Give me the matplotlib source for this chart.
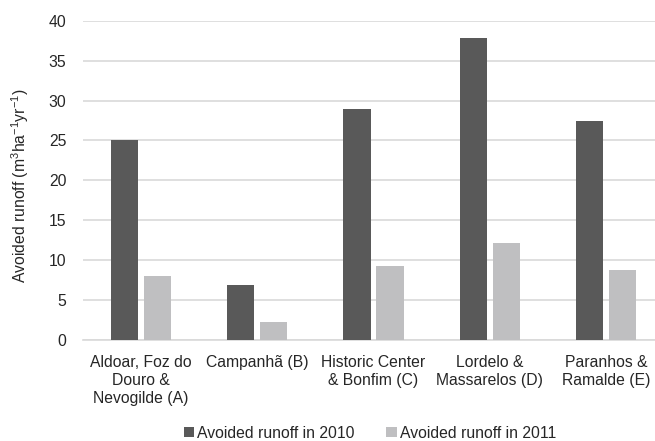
import matplotlib
matplotlib.use("Agg")
import matplotlib.pyplot as plt
from matplotlib.patches import Patch
import numpy as np

plt.rcParams["font.family"] = ["Liberation Sans", "DejaVu Sans"]
plt.rcParams["mathtext.fontset"] = "custom"
plt.rcParams["mathtext.rm"] = "Liberation Sans"
plt.rcParams["mathtext.it"] = "Liberation Sans"

categories = [
    "Aldoar, Foz do\nDouro &\nNevogilde (A)",
    "Campanhã (B)",
    "Historic Center\n& Bonfim (C)",
    "Lordelo &\nMassarelos (D)",
    "Paranhos &\nRamalde (E)",
]
runoff_2010 = [25.1, 6.9, 29.0, 37.8, 27.4]
runoff_2011 = [8.0, 2.2, 9.3, 12.1, 8.8]
series_names = ["Avoided runoff in 2010", "Avoided runoff in 2011"]
yticks = [0, 5, 10, 15, 20, 25, 30, 35, 40]

dark = "#595959"
light = "#bfbfc1"
text_color = "#262626"
grid_color = "#d9d9d9"
fs = 11.3

W, H = 655, 441
fig = plt.figure(figsize=(W / 100, H / 100), dpi=100)
left, right, bottom, top = 83, 664, 340, 20.7
ax = fig.add_axes([left / W, (H - bottom) / H, (right - left) / W, (bottom - top) / H])

x = np.arange(len(categories))
bw = 0.235
off = 0.142
ax.bar(x - off, runoff_2010, width=bw, color=dark, zorder=3)
ax.bar(x + off, runoff_2011, width=bw, color=light, zorder=3)

ax.set_xlim(-0.5, len(categories) - 0.5)
ax.set_ylim(0, 40)
ax.set_yticks(yticks)
ax.yaxis.grid(True, color=grid_color, linewidth=1.2, zorder=0)
ax.set_axisbelow(True)
for s in ["top", "right", "left"]:
    ax.spines[s].set_visible(False)
ax.spines["bottom"].set_color(grid_color)
ax.spines["bottom"].set_linewidth(1.2)

ax.set_xticks(x)
ax.set_xticklabels(categories, fontsize=fs, color=text_color, linespacing=1.25)
ax.tick_params(axis="x", length=0, pad=11)
ax.tick_params(axis="y", length=0, pad=12, labelsize=fs, labelcolor=text_color)

ax.set_ylabel(r"Avoided runoff (m$^{3}$ha$^{-1}$yr$^{-1}$)", fontsize=fs, color=text_color)
ax.yaxis.set_label_coords((20 - left) / (right - left), (bottom - 186) / (bottom - top))
ax.yaxis.label.set_va("center")

handles = [Patch(facecolor=dark), Patch(facecolor=light)]
fig.legend(handles, series_names, loc="center", ncol=2, frameon=False,
           bbox_to_anchor=(370 / W, 1 - 433 / H), fontsize=fs,
           handlelength=0.65, handleheight=0.65, handletextpad=0.2,
           columnspacing=2.0, labelcolor=text_color)

fig.savefig("out.png", dpi=100)
